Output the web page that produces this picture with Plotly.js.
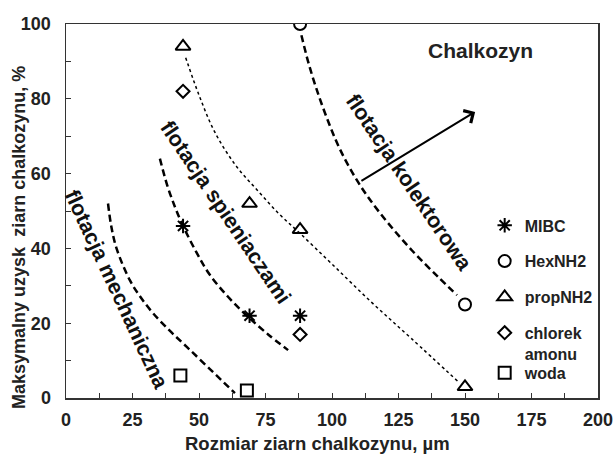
<!DOCTYPE html>
<html>
<head>
<meta charset="utf-8">
<script src="https://cdn.plot.ly/plotly-3.0.1.min.js"></script>
<style>html,body{margin:0;padding:0;background:#fff;}#chart{width:616px;height:455px;}</style>
</head>
<body>
<div id="chart"></div>
<script>
// ---- data ----
const seriesNames = ["MIBC", "HexNH2", "propNH2", "chlorek<br>amonu", "woda"];
const mibcX = [44, 69, 88];           const mibcY = [46, 22, 22];
const hexX = [88, 150];               const hexY = [100, 25];
const propX = [44, 69, 88, 150];      const propY = [94, 52, 45, 3];
const chlorX = [44, 88];              const chlorY = [82, 17];
const wodaX = [43, 68];               const wodaY = [6, 2];

// guide curves
const mechX = [15.8, 17, 19, 24, 28, 32.7, 39, 45.5, 54, 63.5];
const mechY = [52, 46, 40, 31.5, 27, 22.7, 18, 13.6, 7.8, 1.3];
const spienX = [35.3, 38, 41, 44, 49, 54, 61, 68, 76, 83.5];
const spienY = [64, 57, 51, 46, 39, 33, 27, 22, 17, 12.8];
const kolX = [88.5, 91, 94, 98, 103, 110, 118, 130, 140, 147];
const kolY = [97, 90, 83, 75, 66.5, 57.5, 49.5, 39.5, 32.3, 27.5];
const dotX = [45, 50, 56, 64, 72, 80, 88, 100, 115, 130, 148];
const dotY = [91, 81, 71, 62, 55.5, 49.3, 44, 35.8, 25.5, 15.8, 4];

const xTicks = [0, 25, 50, 75, 100, 125, 150, 175, 200];
const yTicks = [0, 20, 40, 60, 80, 100];
const xTitle = "Rozmiar ziarn chalkozynu, µm";
const yTitle = "Maksymalny uzysk  ziarn chalkozynu, %";

const FONT = "Liberation Sans, Arial, sans-serif";

function curve(x, y, width, dash) {
  return {x: x, y: y, type: "scatter", mode: "lines", showlegend: false, hoverinfo: "skip",
          line: {color: "#000", width: width, dash: dash, shape: "spline", smoothing: 1}};
}
function pts(x, y, name, symbol, size, group, legendId) {
  return {x: x, y: y, type: "scatter", mode: "markers", name: name, legendgroup: group,
          legend: legendId || "legend",
          marker: {symbol: symbol, size: size, color: "#000", line: {color: "#000", width: 2}}};
}

const traces = [
  curve(mechX, mechY, 2.5, "7px,4px"),
  curve(spienX, spienY, 2.5, "7px,4px"),
  curve(kolX, kolY, 2.5, "7px,4px"),
  curve(dotX, dotY, 1.5, "3px,3px"),
  pts(mibcX, mibcY, seriesNames[0], "asterisk-open", 12, "g1"),
  pts(hexX, hexY, seriesNames[1], "circle-open", 12, "g2"),
  pts(propX, propY, seriesNames[2], "triangle-up-open", 13, "g3"),
  pts(chlorX, chlorY, seriesNames[3], "diamond-open", 10, "g4"),
  pts(wodaX, wodaY, seriesNames[4], "square-open", 12, "g5", "legend2")
];

const rotFont = {family: FONT, size: 21.5, color: "#111", weight: "bold"};
const legFont = {family: FONT, size: 16, color: "#222", weight: "bold"};

const layout = {
  width: 616, height: 455,
  margin: {l: 66, r: 18, t: 24, b: 57},
  paper_bgcolor: "#fff", plot_bgcolor: "#fff",
  font: {family: FONT, color: "#000"},
  showlegend: true,
  legend: {x: 0.787, y: 0.507, xanchor: "left", yanchor: "top", valign: "top",
           bgcolor: "rgba(0,0,0,0)", borderwidth: 0, font: legFont,
           tracegroupgap: 12, itemwidth: 30, traceorder: "grouped"},
  legend2: {x: 0.787, y: 0.113, xanchor: "left", yanchor: "top",
           bgcolor: "rgba(0,0,0,0)", borderwidth: 0, font: legFont, itemwidth: 30},
  xaxis: {range: [0, 200], tickvals: xTicks, ticks: "inside", ticklen: 5, tickwidth: 1,
          tickcolor: "#333", showline: true, linecolor: "#333", linewidth: 1.5, mirror: true,
          showgrid: false, zeroline: false, ticklabelstandoff: 5,
          minor: {dtick: 12.5, ticks: "inside", ticklen: 5, tickcolor: "#333", showgrid: false},
          tickfont: {family: FONT, size: 18, color: "#222", weight: "bold"}},
  yaxis: {range: [0, 100], tickvals: yTicks, ticks: "inside", ticklen: 5, tickwidth: 1,
          tickcolor: "#333", showline: true, linecolor: "#333", linewidth: 1.5, mirror: true,
          showgrid: false, zeroline: false, ticklabelstandoff: 10,
          minor: {dtick: 10, ticks: "inside", ticklen: 5, tickcolor: "#333", showgrid: false},
          tickfont: {family: FONT, size: 18, color: "#222", weight: "bold"}},
  annotations: [
    {x: 0.472, y: -0.121, xref: "paper", yref: "paper", text: xTitle, showarrow: false,
     xanchor: "center", yanchor: "middle",
     font: {family: FONT, size: 18.5, color: "#222", weight: "bold"}},
    {x: -0.0883, y: 0.428, xref: "paper", yref: "paper", text: yTitle, showarrow: false,
     textangle: -90, xanchor: "center", yanchor: "middle",
     font: {family: FONT, size: 18, color: "#222", weight: "bold"}},
    {x: 156, y: 93, xref: "x", yref: "y", text: "Chalkozyn", showarrow: false,
     font: {family: FONT, size: 21, color: "#222", weight: "bold"}},
    {x: 129, y: 57.5, xref: "x", yref: "y", text: "flotacja kolektorowa", showarrow: false,
     textangle: 56, font: rotFont},
    {x: 59.8, y: 49.7, xref: "x", yref: "y", text: "flotacja spieniaczami", showarrow: false,
     textangle: 56, font: rotFont},
    {x: 18.8, y: 29.1, xref: "x", yref: "y", text: "flotacja mechaniczna", showarrow: false,
     textangle: 65, font: rotFont},
    {x: 153.8, y: 76.5, ax: 110.5, ay: 57.8, xref: "x", yref: "y", axref: "x", ayref: "y",
     text: "", showarrow: true, arrowhead: 4, arrowsize: 1.4, arrowwidth: 2, arrowcolor: "#000"}
  ]
};

Plotly.newPlot("chart", traces, layout, {displayModeBar: false, staticPlot: true});
</script>
</body>
</html>
